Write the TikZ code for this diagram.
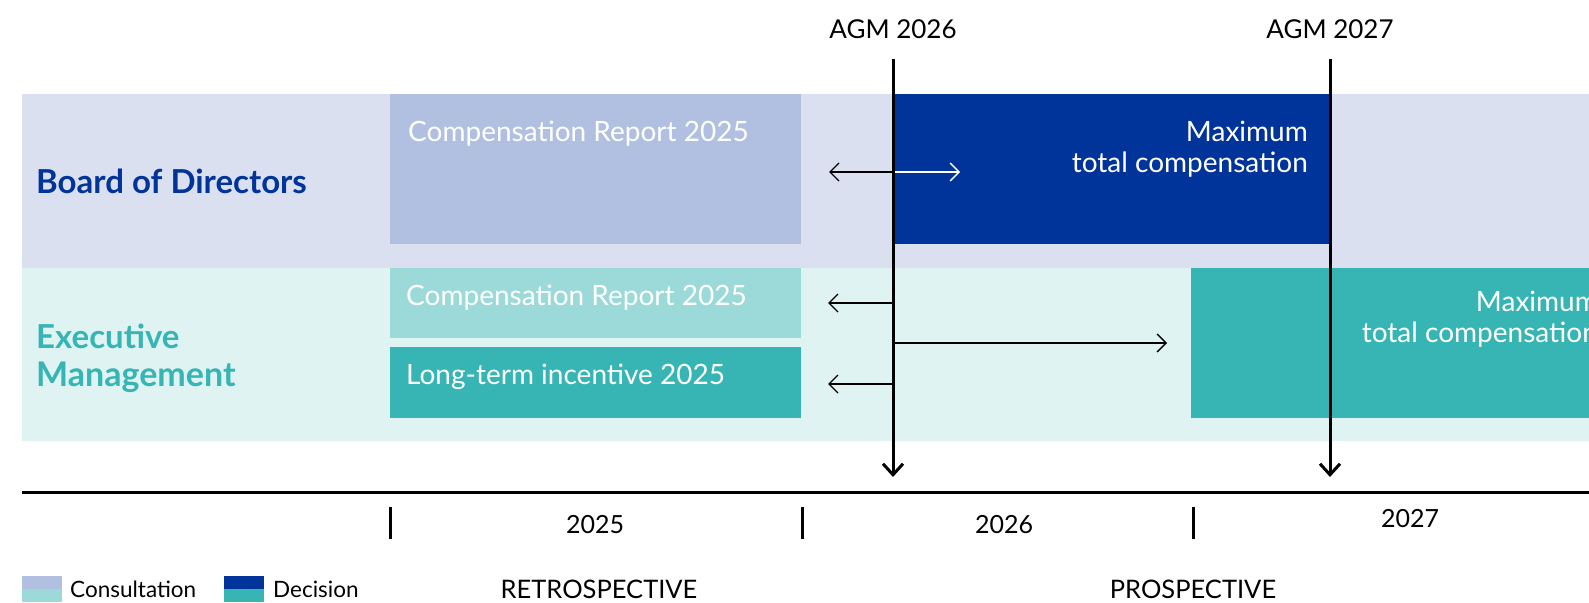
\documentclass[tikz,border=0pt]{standalone}
\usepackage{fontspec}
\setmainfont{Lato}
\usetikzlibrary{positioning}
\usetikzlibrary{calc}
\usetikzlibrary{arrows.meta}

\definecolor{bodband}{HTML}{DAE0EF}
\definecolor{bodconsult}{HTML}{B1C0E0}
\definecolor{boddecide}{HTML}{00349A}
\definecolor{emband}{HTML}{DFF3F2}
\definecolor{emconsult}{HTML}{9BDAD8}
\definecolor{emdecide}{HTML}{36B5B4}

\tikzset{
  area/.style={inner sep=0pt, outer sep=0pt, anchor=north west},
  boxtext/.style={text=white, inner sep=0pt, font=\fontsize{28}{32}\selectfont},
  rowlabel/.style={inner sep=0pt, anchor=base west, font=\fontsize{33}{38}\selectfont\bfseries},
  agmline/.style={line width=3pt, -{Straight Barb[length=11pt, width=20pt]}},
  sidearrow/.style={line width=1.4pt, -{Straight Barb[length=9pt, width=18pt]}},
  axisline/.style={line width=3pt},
  yeartick/.style={line width=3pt},
  agmlabel/.style={inner sep=0pt, font=\fontsize{26}{30}\selectfont},
  yearlabel/.style={inner sep=0pt, font=\fontsize{25}{30}\selectfont},
  legendtext/.style={inner sep=0pt, font=\fontsize{22.5}{26}\selectfont},
}

\begin{document}
\begin{tikzpicture}[x=1pt, y=-1pt]
    \useasboundingbox (0,0) rectangle (1589,602);
    \clip (0,0) rectangle (1589,602);

    \def\rowleft{22}
    \def\boxleft{390}
    \def\boxwidth{411pt}

    % rows
    \node[area, fill=bodband, minimum width=1567pt, minimum height=174pt] (bodrow) at (\rowleft,94) {};
    \node[area, fill=emband, minimum width=1567pt, minimum height=173pt] (emrow) at (\rowleft,268) {};

    \node[rowlabel, text=boddecide] (bodlabel) at (36,193) {Board of Directors};
    \node[rowlabel, text=emdecide] (emlabela) at (36,348) {Executive};
    \node[rowlabel, text=emdecide, font=\fontsize{34}{38}\selectfont\bfseries] (emlabelb) at ($(emlabela.base west)+(0,38)$) {Management};

    % boxes
    \node[area, fill=bodconsult, minimum width=\boxwidth, minimum height=150pt] (bodreport) at (\boxleft,94) {};
    \node[area, fill=boddecide, minimum width=436pt, minimum height=150pt] (bodmax) at (894,94) {};
    \node[area, fill=emconsult, minimum width=\boxwidth, minimum height=70pt] (emreport) at (\boxleft,268) {};
    \node[area, fill=emdecide, minimum width=\boxwidth, minimum height=71pt] (emlti) at (\boxleft,347) {};
    \node[area, fill=emdecide, minimum width=398pt, minimum height=150pt] (emmax) at (1191,268) {};

    \node[boxtext, anchor=base west] (bodreporttxt) at (408,141.5) {Compensation Report 2025};
    \node[boxtext, anchor=base west] (emreporttxt) at (406,305.5) {Compensation Report 2025};
    \node[boxtext, anchor=base west] (emltitxt) at (406,384) {Long-term incentive 2025};
    \node[boxtext, anchor=base east] (bodmaxa) at (1308,141) {Maximum};
    \node[boxtext, anchor=base east] (bodmaxb) at (1308,172) {total compensation};
    \node[boxtext, anchor=base east] (emmaxa) at (1598,311) {Maximum};
    \node[boxtext, anchor=base east] (emmaxb) at (1598,342) {total compensation};

    % AGM lines
    \foreach \x/\yr/\n in {893/2026/1, 1330/2027/2} {
      \node[agmlabel] (agm\n) at (\x,29) {AGM \yr};
      \coordinate (agm\n top) at (\x,59);
      \coordinate (agm\n bot) at (\x,477);
      \draw[agmline] (agm\n top) -- (agm\n bot);
    }

    \coordinate (bodback) at (829,172);
    \coordinate (bodfwd) at (960,172);
    \coordinate (emback) at (828,303);
    \coordinate (emfwd) at (1167,343);
    \coordinate (ltiback) at (828,384);
    \draw[sidearrow] (agm1top |- bodback) -- (bodback);
    \draw[sidearrow, white] ($(agm1top |- bodfwd)+(2,0)$) -- (bodfwd);
    \draw[sidearrow] (agm1top |- emback) -- (emback);
    \draw[sidearrow] ($(agm1top |- emfwd)+(2,0)$) -- (emfwd);
    \draw[sidearrow] (agm1top |- ltiback) -- (ltiback);

    % time axis
    \coordinate (axisstart) at (\rowleft,492);
    \coordinate (axisend) at (1589,492);
    \draw[axisline] (axisstart) -- (axisend);
    \foreach \x in {390,802,1193} {
      \draw[yeartick] (\x,507) -- (\x,539);
    }
    \node[yearlabel] (y2025) at (595,525) {2025};
    \node[yearlabel] (y2026) at (1004,525) {2026};
    \node[yearlabel] (y2027) at (1410,519) {2027};
    \node[yearlabel, font=\fontsize{25.5}{30}\selectfont] (retro) at (599,589) {RETROSPECTIVE};
    \node[yearlabel, font=\fontsize{25.5}{30}\selectfont] (prosp) at (1193,589) {PROSPECTIVE};

    % legend
    \fill[bodconsult] (22,576) rectangle (62,589.3);
    \fill[emconsult] (22,589.3) rectangle (62,602);
    \fill[boddecide] (224,576) rectangle (264,589.3);
    \fill[emdecide] (224,589.3) rectangle (264,602);
    \node[area, minimum width=40pt, minimum height=26pt] (consultkey) at (22,576) {};
    \node[area, minimum width=40pt, minimum height=26pt] (decidekey) at (224,576) {};
    \node[legendtext, right=8pt of consultkey] (consulttxt) {Consultation};
    \node[legendtext, right=9pt of decidekey] (decidetxt) {Decision};
\end{tikzpicture}
\end{document}
